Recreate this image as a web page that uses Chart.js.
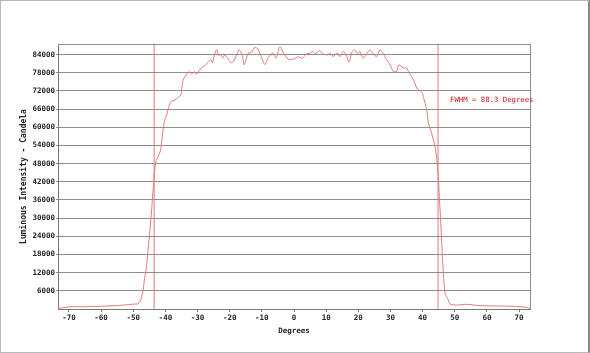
<!DOCTYPE html>
<html>
<head>
<meta charset="utf-8">
<script src="https://cdn.jsdelivr.net/npm/chart.js@4.4.1/dist/chart.umd.min.js"></script>
<style>
  html, body { margin: 0; padding: 0; background: #fff; }
  #wrap { position: relative; width: 590px; height: 353px; }
  #frame { position: absolute; left: 0; top: 0; width: 590px; height: 353px; box-sizing: border-box;
           border: 1px solid #b8b8b8; border-right: 2px solid #8a8a8a; pointer-events: none; }
</style>
</head>
<body>
<div id="wrap">
  <canvas id="fwhmChart" width="590" height="353"></canvas>
  <div id="frame"></div>
</div>
<script>
// angles (degrees) and luminous intensity (candela)
const angles = [
  -73.4, -72.2, -69.7, -66.0, -63.4, -60.0, -58.2, -55.0, -53.1, -51.0, -49.5, -48.5,
  -47.9, -47.4, -46.9, -46.5, -46.0, -45.4, -44.8, -44.2, -43.6, -43.0, -42.2, -41.5,
  -41.0, -40.5, -40.0, -39.6, -38.9, -38.2, -37.0, -36.0, -35.2, -34.6, -33.9, -33.1,
  -32.6, -31.8, -31.0, -30.3, -29.2, -28.2, -27.5, -26.6, -25.8, -25.4, -24.6, -24.0,
  -23.5, -22.7, -22.2, -21.5, -20.6, -19.7, -18.9, -17.8, -17.1, -16.1, -15.5, -14.2,
  -13.2, -12.1, -11.1, -10.0, -9.0, -8.0, -6.6, -5.6, -4.4, -3.3, -1.8, -0.2,
  1.3, 2.7, 3.7, 5.0, 5.8, 6.8, 7.9, 9.1, 10.4, 11.2, 12.2, 13.3,
  14.3, 15.3, 16.2, 17.1, 18.1, 18.8, 19.8, 20.5, 21.5, 22.6, 23.6, 24.7,
  25.7, 26.7, 27.8, 28.8, 29.9, 30.9, 31.9, 32.6, 33.5, 34.3, 35.0, 35.8,
  36.6, 37.4, 38.2, 39.2, 39.9, 40.5, 41.3, 41.8, 42.8, 43.8, 44.4, 44.9,
  45.2, 45.6, 46.0, 46.4, 47.0, 48.0, 48.5, 50.6, 53.7, 57.8, 63.0, 68.2,
  72.4, 73.4
];
const intensity = [
  300, 350, 750, 750, 800, 900, 1000, 1100, 1300, 1500, 1650, 1700,
  2400, 4100, 6300, 10000, 12900, 19500, 26000, 33800, 42600, 48500, 50500, 52500,
  56500, 61000, 63000, 64100, 66800, 68500, 69000, 69900, 70700, 75100, 76800, 77900,
  78400, 77600, 78400, 77500, 79200, 80000, 80600, 81700, 82300, 81200, 84500, 85600,
  83900, 83900, 82800, 83900, 82800, 81400, 81700, 83900, 85600, 83900, 80600, 84500,
  84800, 86500, 85600, 82800, 80700, 83000, 84500, 82800, 86600, 84500, 82500, 82500,
  83300, 82800, 84200, 84500, 85000, 84200, 85400, 84200, 83900, 84500, 83300, 84500,
  83300, 85000, 83900, 81500, 85000, 85600, 84200, 85000, 82800, 84200, 85600, 84200,
  83300, 85600, 84200, 82300, 80600, 78400, 78400, 80600, 80000, 79500, 79700, 77900,
  76800, 75100, 72900, 72100, 71300, 69000, 65700, 61500, 58000, 54000, 49500, 43700,
  37100, 29400, 20600, 12900, 5200, 3000, 1650, 1300, 1550, 1100, 1000, 870,
  530, 100
];
const yTicks = [6000, 12000, 18000, 24000, 30000, 36000, 42000, 48000, 54000, 60000, 66000, 72000, 78000, 84000];
const xTicks = [-70, -60, -50, -40, -30, -20, -10, 0, 10, 20, 30, 40, 50, 60, 70];
// half-maximum crossings
const fwhmEdges = [-43.5, 44.8];
const fwhmLabel = 'FWHM = 88.3 Degrees';

const xMin = -73.4, xMax = 73.4, yMax = 87500;
const tickFont = { family: '"DejaVu Sans Mono", monospace', size: 7.5, weight: 'bold' };

const curve = angles.map((a, i) => ({ x: a, y: intensity[i] }));
const edgeSets = fwhmEdges.map(e => ({
  data: [{ x: e, y: 0 }, { x: e, y: yMax }],
  borderColor: '#e06a6a',
  borderWidth: 0.9,
  pointRadius: 0,
  tension: 0
}));

const fwhmText = {
  id: 'fwhmText',
  afterDatasetsDraw(chart) {
    const c = chart.ctx;
    const x = chart.scales.x.getPixelForValue(fwhmEdges[1]) + 12;
    const y = chart.scales.y.getPixelForValue(69000);
    c.save();
    c.font = '7.3px "DejaVu Sans Mono", monospace';
    c.fillStyle = '#cc1010';
    c.textBaseline = 'middle';
    c.fillText(fwhmLabel, x, y);
    c.restore();
  }
};

new Chart(document.getElementById('fwhmChart').getContext('2d'), {
  type: 'line',
  data: {
    datasets: [{
      data: curve,
      borderColor: '#e07a7a',
      borderWidth: 1,
      pointRadius: 0,
      tension: 0.25
    }, ...edgeSets]
  },
  options: {
    responsive: false,
    animation: false,
    devicePixelRatio: 1,
    layout: { padding: { left: 0, right: 60, top: 44, bottom: 0 } },
    plugins: { legend: { display: false }, tooltip: { enabled: false } },
    scales: {
      x: {
        type: 'linear',
        min: xMin,
        max: xMax,
        afterFit(s) { s.height = 44; },
        afterBuildTicks(s) { s.ticks = xTicks.map(v => ({ value: v })); },
        grid: { display: true, drawOnChartArea: false, drawTicks: true, tickLength: 3, color: '#777' },
        border: { display: true, color: '#777' },
        ticks: { font: tickFont, color: '#222', padding: 2, maxRotation: 0, autoSkip: false },
        title: { display: true, text: 'Degrees', color: '#222', font: tickFont, padding: { top: 0, bottom: 17 } }
      },
      y: {
        type: 'linear',
        min: 0,
        max: yMax,
        afterFit(s) { s.width = 58; },
        afterBuildTicks(s) { s.ticks = yTicks.map(v => ({ value: v })); },
        grid: { color: '#8c8c8c', tickLength: 2 },
        border: { display: true, color: '#777' },
        ticks: { font: tickFont, color: '#222', padding: 1, autoSkip: false, callback: v => String(v) },
        title: { display: true, text: 'Luminous Intensity - Candela', color: '#222',
                 font: { family: '"DejaVu Sans Mono", monospace', size: 8, weight: 'bold' }, padding: { top: 19, bottom: 0 } }
      },
      xTop: {
        type: 'linear', position: 'top', min: xMin, max: xMax,
        afterFit(s) { s.height = 0; },
        grid: { display: false }, ticks: { display: false },
        border: { display: true, color: '#8c8c8c' }
      },
      yRight: {
        type: 'linear', position: 'right', min: 0, max: yMax,
        afterFit(s) { s.width = 0; },
        grid: { display: false }, ticks: { display: false },
        border: { display: true, color: '#8c8c8c' }
      }
    }
  },
  plugins: [fwhmText]
});
</script>
</body>
</html>
